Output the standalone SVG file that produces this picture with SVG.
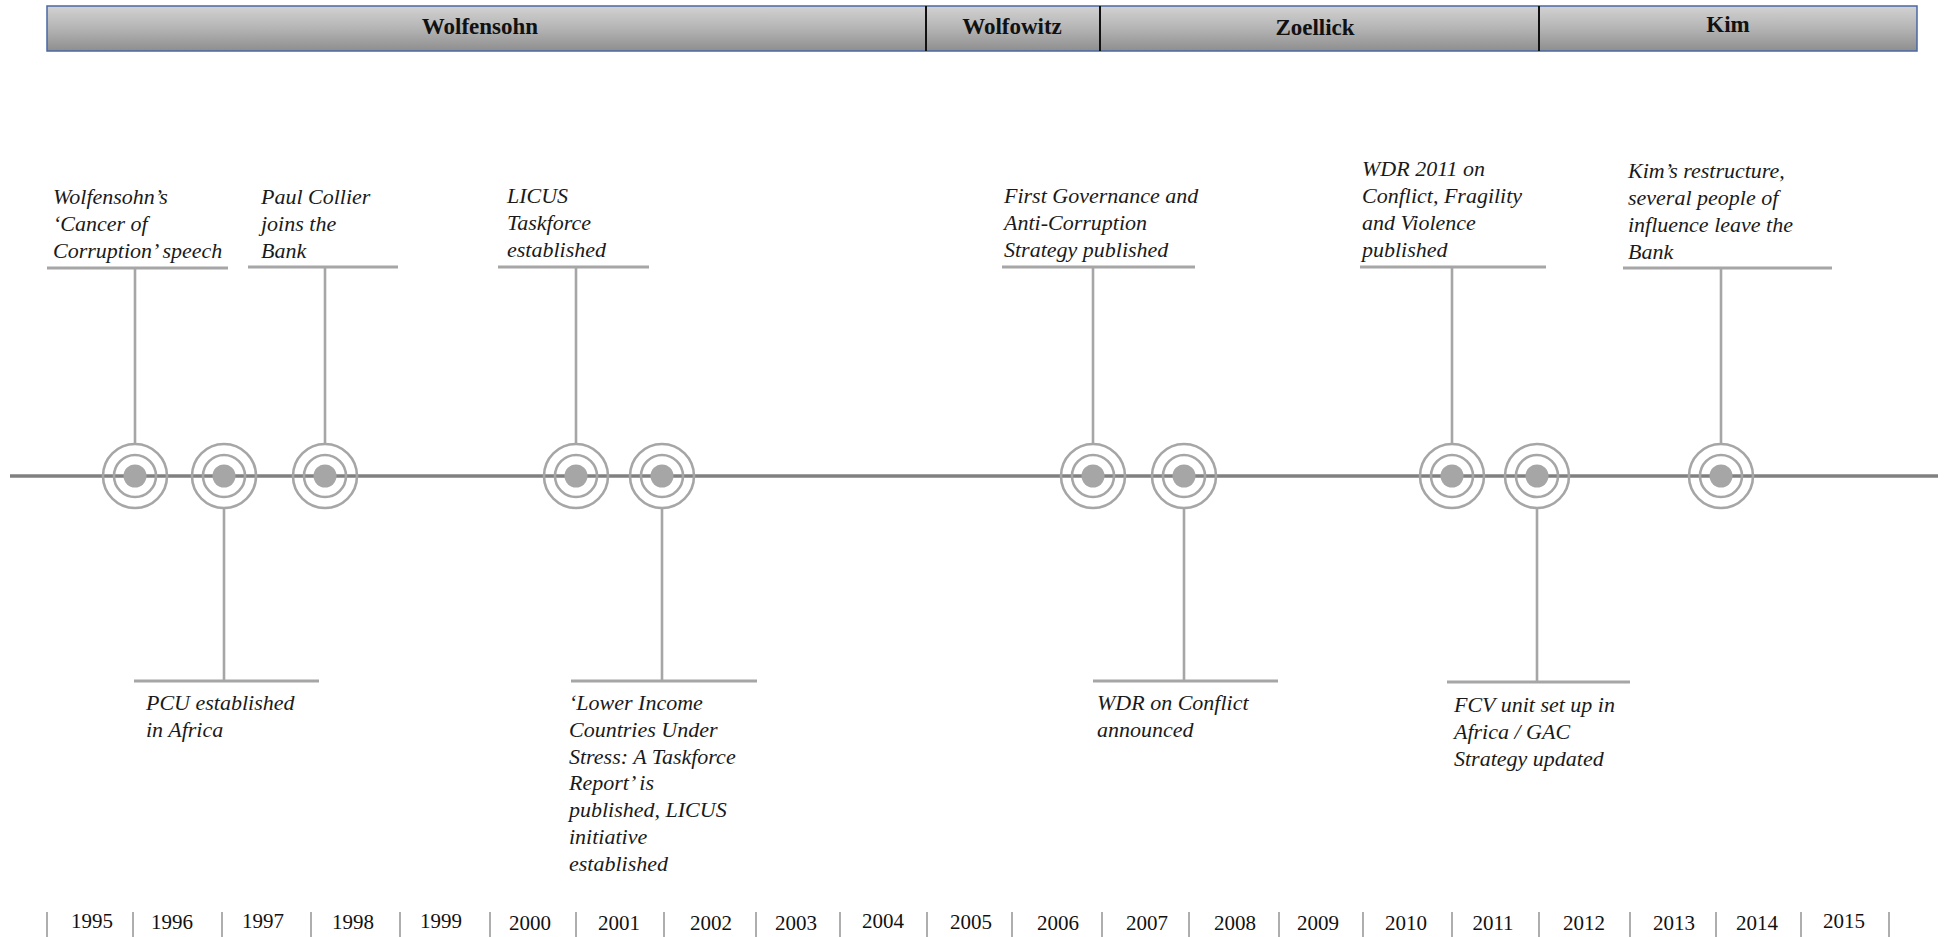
<svg xmlns="http://www.w3.org/2000/svg" width="1944" height="937" viewBox="0 0 1944 937">
<defs>
<linearGradient id="hdr" x1="0" y1="0" x2="0" y2="1">
<stop offset="0" stop-color="#d2d2d2"/>
<stop offset="0.5" stop-color="#b4b4b4"/>
<stop offset="1" stop-color="#8e8e8e"/>
</linearGradient>
<g id="target">
<circle r="32" fill="none" stroke="#a6a6a6" stroke-width="2.6"/>
<circle r="21" fill="none" stroke="#a6a6a6" stroke-width="2.6"/>
<circle r="11.5" fill="#a6a6a6"/>
</g>
</defs>
<style>
.hd{font-family:"Liberation Serif","Times New Roman",serif;font-weight:bold;font-size:23px;fill:#111;text-anchor:middle}
.ev{font-family:"Liberation Serif","Times New Roman",serif;font-style:italic;font-size:22px;fill:#1a1a1a}
.yr{font-family:"Liberation Serif","Times New Roman",serif;font-size:21px;fill:#111;text-anchor:middle}
.bar{stroke:#a6a6a6;stroke-width:3;fill:none}
.stem{stroke:#a6a6a6;stroke-width:2.6;fill:none}
.tick{stroke:#9a9a9a;stroke-width:1.6}
.div{stroke:#111;stroke-width:2}
</style>
<rect width="1944" height="937" fill="#fff"/>

<!-- header -->
<g id="header">
<rect x="47" y="6" width="1870" height="45" fill="url(#hdr)" stroke="#4a68a6" stroke-width="1.5"/>
<line class="div" x1="926" y1="6" x2="926" y2="51"/>
<line class="div" x1="1100" y1="6" x2="1100" y2="51"/>
<line class="div" x1="1539" y1="6" x2="1539" y2="51"/>
<text id="p-wolfensohn" class="hd" x="480" y="34">Wolfensohn</text>
<text id="p-wolfowitz" class="hd" x="1012" y="34">Wolfowitz</text>
<text id="p-zoellick" class="hd" x="1315" y="35">Zoellick</text>
<text id="p-kim" class="hd" x="1728" y="32">Kim</text>
</g>

<!-- axis -->
<g id="axis">
<line x1="10" y1="476" x2="1938" y2="476" stroke="#808080" stroke-width="3.6"/>
</g>

<!-- connectors: stems and label underlines -->
<g id="connectors">
<line class="bar" x1="47" y1="268" x2="228" y2="268"/><line class="stem" x1="135" y1="268" x2="135" y2="444"/>
<line class="bar" x1="248" y1="267" x2="398" y2="267"/><line class="stem" x1="325" y1="267" x2="325" y2="444"/>
<line class="bar" x1="498" y1="267" x2="649" y2="267"/><line class="stem" x1="576" y1="267" x2="576" y2="444"/>
<line class="bar" x1="1002" y1="267" x2="1195" y2="267"/><line class="stem" x1="1093" y1="267" x2="1093" y2="444"/>
<line class="bar" x1="1360" y1="267" x2="1546" y2="267"/><line class="stem" x1="1452" y1="267" x2="1452" y2="444"/>
<line class="bar" x1="1623" y1="268" x2="1832" y2="268"/><line class="stem" x1="1721" y1="268" x2="1721" y2="444"/>
<line class="bar" x1="134" y1="681" x2="319" y2="681"/><line class="stem" x1="224" y1="508" x2="224" y2="681"/>
<line class="bar" x1="571" y1="681" x2="757" y2="681"/><line class="stem" x1="662" y1="508" x2="662" y2="681"/>
<line class="bar" x1="1093" y1="681" x2="1278" y2="681"/><line class="stem" x1="1184" y1="508" x2="1184" y2="681"/>
<line class="bar" x1="1447" y1="682" x2="1630" y2="682"/><line class="stem" x1="1537" y1="508" x2="1537" y2="682"/>
</g>

<!-- events -->
<g id="e1995"><use href="#target" x="135" y="476"/>
<text class="ev" x="53" y="204"><tspan x="53">Wolfensohn’s</tspan><tspan x="53" dy="27">‘Cancer of</tspan><tspan x="53" dy="27">Corruption’ speech</tspan></text></g>
<g id="e1996"><use href="#target" x="224" y="476"/>
<text class="ev" x="146" y="710"><tspan x="146">PCU established</tspan><tspan x="146" dy="27">in Africa</tspan></text></g>
<g id="e1997"><use href="#target" x="325" y="476"/>
<text class="ev" x="261" y="204"><tspan x="261">Paul Collier</tspan><tspan x="261" dy="27">joins the</tspan><tspan x="261" dy="27">Bank</tspan></text></g>
<g id="e2000"><use href="#target" x="576" y="476"/>
<text class="ev" x="507" y="203"><tspan x="507">LICUS</tspan><tspan x="507" dy="27">Taskforce</tspan><tspan x="507" dy="27">established</tspan></text></g>
<g id="e2001"><use href="#target" x="662" y="476"/>
<text class="ev" x="569" y="710"><tspan x="569">‘Lower Income</tspan><tspan x="569" dy="26.8">Countries Under</tspan><tspan x="569" dy="26.8">Stress: A Taskforce</tspan><tspan x="569" dy="26.8">Report’ is</tspan><tspan x="569" dy="26.8">published, LICUS</tspan><tspan x="569" dy="26.8">initiative</tspan><tspan x="569" dy="26.8">established</tspan></text></g>
<g id="e2006"><use href="#target" x="1093" y="476"/>
<text class="ev" x="1004" y="203"><tspan x="1004">First Governance and</tspan><tspan x="1004" dy="27">Anti-Corruption</tspan><tspan x="1004" dy="27">Strategy published</tspan></text></g>
<g id="e2007"><use href="#target" x="1184" y="476"/>
<text class="ev" x="1097" y="710"><tspan x="1097">WDR on Conflict</tspan><tspan x="1097" dy="27">announced</tspan></text></g>
<g id="e2010"><use href="#target" x="1452" y="476"/>
<text class="ev" x="1362" y="176"><tspan x="1362">WDR 2011 on</tspan><tspan x="1362" dy="27">Conflict, Fragility</tspan><tspan x="1362" dy="27">and Violence</tspan><tspan x="1362" dy="27">published</tspan></text></g>
<g id="e2011"><use href="#target" x="1537" y="476"/>
<text class="ev" x="1454" y="712"><tspan x="1454">FCV unit set up in</tspan><tspan x="1454" dy="27">Africa / GAC</tspan><tspan x="1454" dy="27">Strategy updated</tspan></text></g>
<g id="e2013"><use href="#target" x="1721" y="476"/>
<text class="ev" x="1628" y="178"><tspan x="1628">Kim’s restructure,</tspan><tspan x="1628" dy="27">several people of</tspan><tspan x="1628" dy="27">influence leave the</tspan><tspan x="1628" dy="27">Bank</tspan></text></g>

<!-- year scale -->
<g id="years">
<line class="tick" x1="47" y1="912" x2="47" y2="937"/>
<line class="tick" x1="133" y1="912" x2="133" y2="937"/>
<line class="tick" x1="222" y1="912" x2="222" y2="937"/>
<line class="tick" x1="311" y1="912" x2="311" y2="937"/>
<line class="tick" x1="400" y1="912" x2="400" y2="937"/>
<line class="tick" x1="490" y1="912" x2="490" y2="937"/>
<line class="tick" x1="576" y1="912" x2="576" y2="937"/>
<line class="tick" x1="664" y1="912" x2="664" y2="937"/>
<line class="tick" x1="756" y1="912" x2="756" y2="937"/>
<line class="tick" x1="840" y1="912" x2="840" y2="937"/>
<line class="tick" x1="927" y1="912" x2="927" y2="937"/>
<line class="tick" x1="1012" y1="912" x2="1012" y2="937"/>
<line class="tick" x1="1102" y1="912" x2="1102" y2="937"/>
<line class="tick" x1="1189" y1="912" x2="1189" y2="937"/>
<line class="tick" x1="1279" y1="912" x2="1279" y2="937"/>
<line class="tick" x1="1363" y1="912" x2="1363" y2="937"/>
<line class="tick" x1="1452" y1="912" x2="1452" y2="937"/>
<line class="tick" x1="1539" y1="912" x2="1539" y2="937"/>
<line class="tick" x1="1630" y1="912" x2="1630" y2="937"/>
<line class="tick" x1="1716" y1="912" x2="1716" y2="937"/>
<line class="tick" x1="1801" y1="912" x2="1801" y2="937"/>
<line class="tick" x1="1889" y1="912" x2="1889" y2="937"/>
<text class="yr" x="92" y="928">1995</text>
<text class="yr" x="172" y="929">1996</text>
<text class="yr" x="263" y="928">1997</text>
<text class="yr" x="353" y="929">1998</text>
<text class="yr" x="441" y="928">1999</text>
<text class="yr" x="530" y="930">2000</text>
<text class="yr" x="619" y="930">2001</text>
<text class="yr" x="711" y="930">2002</text>
<text class="yr" x="796" y="930">2003</text>
<text class="yr" x="883" y="928">2004</text>
<text class="yr" x="971" y="929">2005</text>
<text class="yr" x="1058" y="930">2006</text>
<text class="yr" x="1147" y="930">2007</text>
<text class="yr" x="1235" y="930">2008</text>
<text class="yr" x="1318" y="930">2009</text>
<text class="yr" x="1406" y="930">2010</text>
<text class="yr" x="1493" y="930">2011</text>
<text class="yr" x="1584" y="930">2012</text>
<text class="yr" x="1674" y="930">2013</text>
<text class="yr" x="1757" y="930">2014</text>
<text class="yr" x="1844" y="928">2015</text>
</g>
</svg>
